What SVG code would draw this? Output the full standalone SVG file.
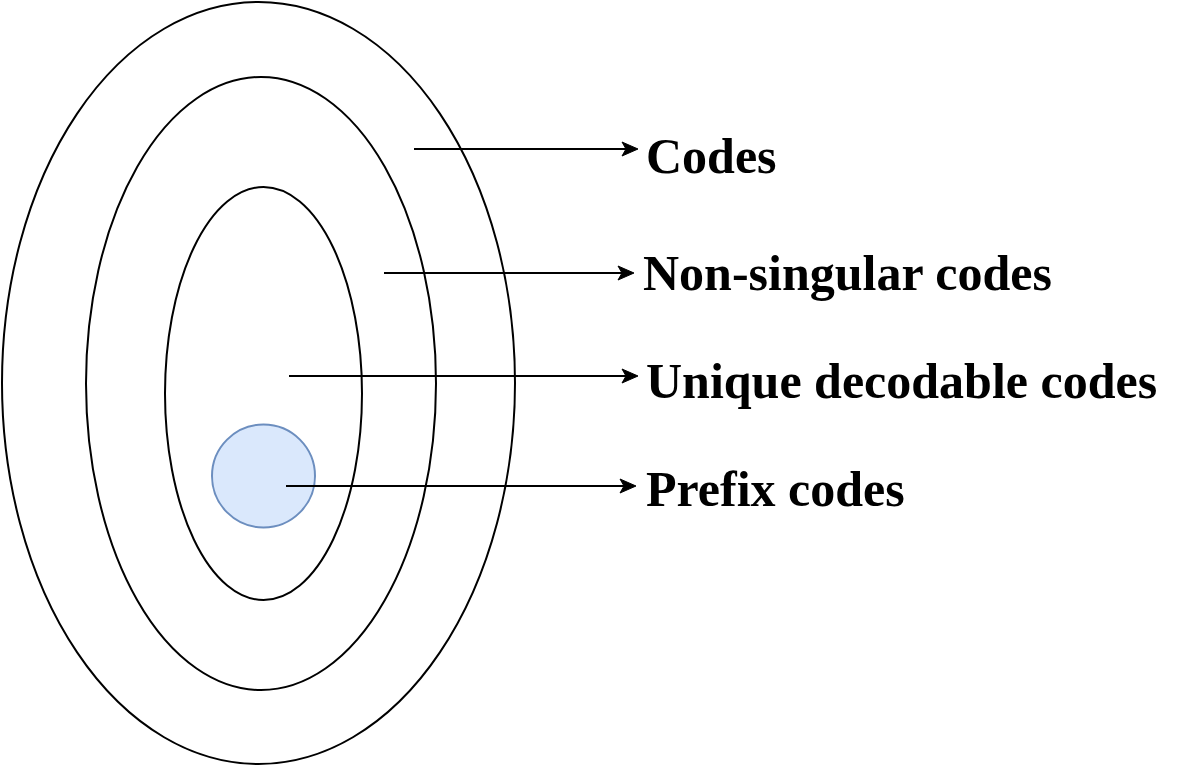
<svg xmlns="http://www.w3.org/2000/svg" width="1193" height="765" viewBox="0 0 1193 765">
<style>
.ring{fill:none;stroke:#000;stroke-width:2}
.lbl{font-family:"Liberation Serif","Times New Roman",serif;font-weight:bold;font-size:50px;fill:#000}
.conn{stroke:#000;stroke-width:2;fill:none}
.head{fill:#000;stroke:#000;stroke-width:1}
</style>
<defs>
<path id="ah" d="M0,0 L-16,-7 L-12,0 L-16,7 Z"/>
</defs>
<rect width="1193" height="765" fill="#fff"/>
<g id="codes-ellipse"><ellipse class="ring" cx="258.5" cy="383" rx="256.5" ry="381"/></g>
<g id="nonsingular-ellipse"><ellipse class="ring" cx="261" cy="383.5" rx="175" ry="306.5"/></g>
<g id="unique-ellipse"><ellipse class="ring" cx="263.5" cy="393.5" rx="98.5" ry="206.5"/></g>
<g id="prefix-circle"><circle cx="263.5" cy="476" r="51.5" fill="#dae8fc" stroke="#6c8ebf" stroke-width="2"/></g>
<g id="connectors">
<line class="conn" x1="414" y1="149" x2="628" y2="149"/>
<use href="#ah" class="head" x="638" y="149"/>
<line class="conn" x1="384" y1="273" x2="624" y2="273"/>
<use href="#ah" class="head" x="634" y="273"/>
<line class="conn" x1="289" y1="376" x2="628" y2="376"/>
<use href="#ah" class="head" x="638" y="376"/>
<line class="conn" x1="286" y1="486" x2="626" y2="486"/>
<use href="#ah" class="head" x="636" y="486"/>
</g>
<g id="label-codes"><text class="lbl" x="646" y="173">Codes</text></g>
<g id="label-nonsingular"><text class="lbl" x="643" y="290">Non-singular codes</text></g>
<g id="label-unique"><text class="lbl" x="646" y="398">Unique decodable codes</text></g>
<g id="label-prefix"><text class="lbl" x="646" y="506">Prefix codes</text></g>
</svg>
